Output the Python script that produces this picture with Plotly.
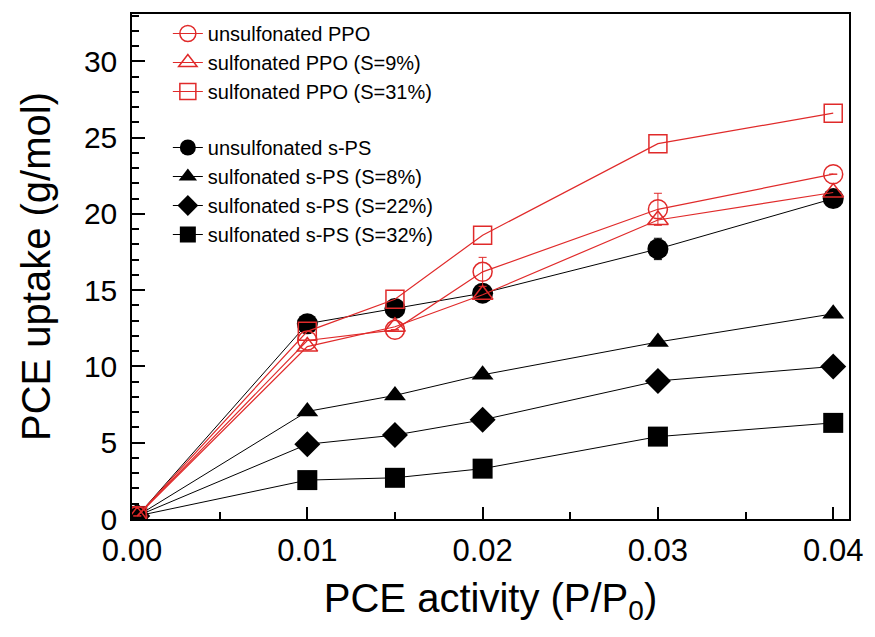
import plotly.graph_objects as go

activity = [0.0003, 0.01, 0.015, 0.02, 0.03, 0.04]

ppo_unsulf = [0.2, 11.7, 12.4, 16.2, 20.3, 22.6]
ppo_unsulf_err = [0, 0, 0, 0.95, 1.05, 0]
ppo_s9 = [0.2, 11.3, 12.6, 14.7, 19.6, 21.4]
ppo_s31 = [0.2, 12.3, 14.4, 18.6, 24.6, 26.6]

ps_unsulf = [0.2, 12.8, 13.8, 14.8, 17.7, 21.0]
ps_unsulf_err = [0, 0, 0, 0, 0.7, 0]
ps_s8 = [0.2, 7.05, 8.1, 9.45, 11.6, 13.45]
ps_s22 = [0.2, 4.9, 5.5, 6.5, 9.05, 10.0]
ps_s32 = [0.2, 2.55, 2.7, 3.3, 5.4, 6.3]

names_ppo = ["unsulfonated PPO", "sulfonated PPO (S=9%)", "sulfonated PPO (S=31%)"]
names_ps = ["unsulfonated s-PS", "sulfonated s-PS (S=8%)",
            "sulfonated s-PS (S=22%)", "sulfonated s-PS (S=32%)"]

RED = "#e02a2a"
BLACK = "#000000"
FONT = "Liberation Sans, Arial, sans-serif"

fig = go.Figure()

ps_series = [
    (names_ps[0], ps_unsulf, "circle", 21, ps_unsulf_err),
    (names_ps[1], ps_s8, "triangle-up", 19, None),
    (names_ps[2], ps_s22, "diamond", 20, None),
    (names_ps[3], ps_s32, "square", 20, None),
]
for i, (nm, ys, sym, sz, err) in enumerate(ps_series):
    kw = {}
    if err is not None:
        kw["error_y"] = dict(type="data", array=err, visible=True,
                             color=BLACK, thickness=1, width=4)
    fig.add_trace(go.Scatter(
        x=activity, y=ys, name=nm, mode="lines+markers",
        line=dict(color=BLACK, width=1),
        marker=dict(symbol=sym, size=sz, color=BLACK),
        legendgroup="ps", legendrank=10 + i, **kw))

ppo_series = [
    (names_ppo[0], ppo_unsulf, "circle-open", 19, ppo_unsulf_err),
    (names_ppo[1], ppo_s9, "triangle-up-open", 18, None),
    (names_ppo[2], ppo_s31, "square-open", 18, None),
]
for i, (nm, ys, sym, sz, err) in enumerate(ppo_series):
    kw = {}
    if err is not None:
        kw["error_y"] = dict(type="data", array=err, visible=True,
                             color=RED, thickness=1, width=4)
    fig.add_trace(go.Scatter(
        x=activity, y=ys, name=nm, mode="lines+markers",
        line=dict(color=RED, width=1.2),
        marker=dict(symbol=sym, size=sz, color=RED, line=dict(width=1.5, color=RED)),
        legendgroup="ppo", legendrank=1 + i, **kw))

fig.update_layout(
    width=875, height=637,
    margin=dict(l=132, r=18, t=12, b=118),
    paper_bgcolor="white", plot_bgcolor="white",
    font=dict(family=FONT, color="black", size=31),
    showlegend=True,
    legend=dict(x=0.05, y=1.0, xanchor="left", yanchor="top",
                bgcolor="rgba(0,0,0,0)", font=dict(size=20, family=FONT),
                traceorder="grouped", tracegroupgap=27, itemsizing="trace"),
    xaxis=dict(
        range=[0, 0.0409], dtick=0.01, tick0=0, tickformat=".2f",
        ticks="inside", ticklen=12, tickwidth=1.5, tickcolor="black",
        minor=dict(dtick=0.005, ticks="inside", ticklen=7, tickwidth=1.5, tickcolor="black"),
        showline=True, linecolor="black", linewidth=1.5, mirror=True,
        showgrid=False, zeroline=False,
        tickfont=dict(size=31), ticklabelstandoff=3,
        title=dict(text="PCE activity (P/P<sub>0</sub>)", font=dict(size=40), standoff=17),
    ),
    yaxis=dict(
        range=[0, 33.1], dtick=5, tick0=0,
        ticks="inside", ticklen=13, tickwidth=1.5, tickcolor="black",
        minor=dict(dtick=1, ticks="inside", ticklen=7, tickwidth=1.5, tickcolor="black"),
        showline=True, linecolor="black", linewidth=1.5, mirror=True,
        showgrid=False, zeroline=False,
        tickfont=dict(size=30), ticklabelstandoff=7,
        title=dict(text="PCE uptake (g/mol)", font=dict(size=40), standoff=21),
    ),
)

fig.write_html("out.html")
